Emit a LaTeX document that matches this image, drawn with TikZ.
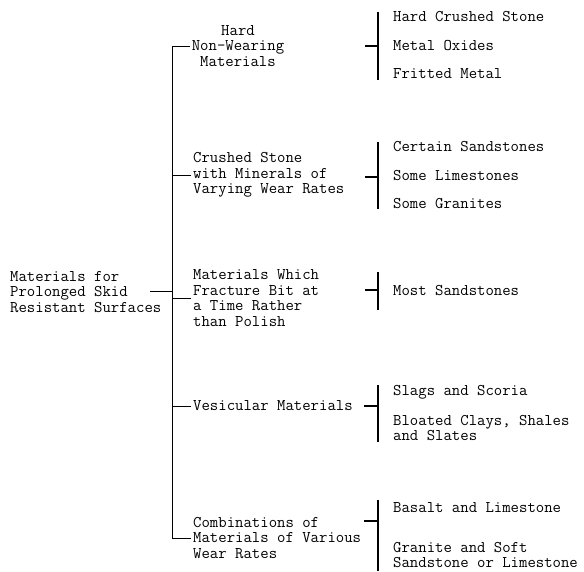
\documentclass[tikz,border=0pt]{standalone}
\usepackage{fontspec}
\begin{document}
\begin{tikzpicture}[x=1pt,y=-1pt,
  txt/.style={font=\ttfamily\fontsize{16.3}{15.5}\selectfont, inner sep=0pt, align=left, anchor=west},
  ln/.style={line width=0.8pt},
  br/.style={line width=1.2pt}]
\useasboundingbox (0,0) rectangle (584,571);
% root
\node[txt] (root) at (10,292) {Materials for\\Prolonged Skid\\Resistant Surfaces};
% middle level
\node[txt, align=center, anchor=center, inner xsep=2pt] (m1) at (238,46) {Hard\\Non-Wearing\\Materials};
\node[txt, inner xsep=2pt] (m2) at (191,175) {Crushed Stone\\with Minerals of\\Varying Wear Rates};
\node[txt, inner xsep=2pt] (m3) at (191,298) {Materials Which\\Fracture Bit at\\a Time Rather\\than Polish};
\node[txt, inner xsep=2pt] (m4) at (191,406) {Vesicular Materials};
\node[txt, inner xsep=2pt] (m5) at (191,538) {Combinations of\\Materials of Various\\Wear Rates};
% trunk
\coordinate (tb) at (172,538);
\coordinate (rt) at (150,291);
\draw[ln] (rt) -- (rt -| tb);
\draw[ln] (m1.west) -| (tb) -- (m5.west);
\draw[ln] (m2.west) -- (m2.west -| tb);
\draw[ln] (m3.west) -- (m3.west -| tb);
\draw[ln] (m4.west) -- (m4.west -| tb);
% group 1
\coordinate (g1t) at (378,12); \coordinate (g1b) at (378,80); \coordinate (g1k) at (365,46);
\draw[br] (g1t) -- (g1b); \draw[br] (g1k) -- (g1k -| g1t);
\node[txt] (a1) at (393,17) {Hard Crushed Stone};
\node[txt] (a2) at (393,46) {Metal Oxides};
\node[txt] (a3) at (393,74) {Fritted Metal};
% group 2
\coordinate (g2t) at (378,142); \coordinate (g2b) at (378,209); \coordinate (g2k) at (365,177);
\draw[br] (g2t) -- (g2b); \draw[br] (g2k) -- (g2k -| g2t);
\node[txt] (b1) at (393,147) {Certain Sandstones};
\node[txt] (b2) at (393,176) {Some Limestones};
\node[txt] (b3) at (393,204) {Some Granites};
% group 3
\coordinate (g3t) at (378,272); \coordinate (g3b) at (378,310); \coordinate (g3k) at (365,290);
\draw[br] (g3t) -- (g3b); \draw[br] (g3k) -- (g3k -| g3t);
\node[txt] (c1) at (393,291) {Most Sandstones};
% group 4
\coordinate (g4t) at (378,385); \coordinate (g4b) at (378,442); \coordinate (g4k) at (364,406);
\draw[br] (g4t) -- (g4b); \draw[br] (g4k) -- (g4k -| g4t);
\node[txt] (d1) at (393,392) {Slags and Scoria};
\node[txt] (d2) at (393,428) {Bloated Clays, Shales\\and Slates};
% group 5
\coordinate (g5t) at (378,500); \coordinate (g5b) at (378,571); \coordinate (g5k) at (364,521);
\draw[br] (g5t) -- (g5b); \draw[br] (g5k) -- (g5k -| g5t);
\node[txt] (e1) at (393,508) {Basalt and Limestone};
\node[txt] (e2) at (393,555) {Granite and Soft\\Sandstone or Limestone};
\end{tikzpicture}
\end{document}
